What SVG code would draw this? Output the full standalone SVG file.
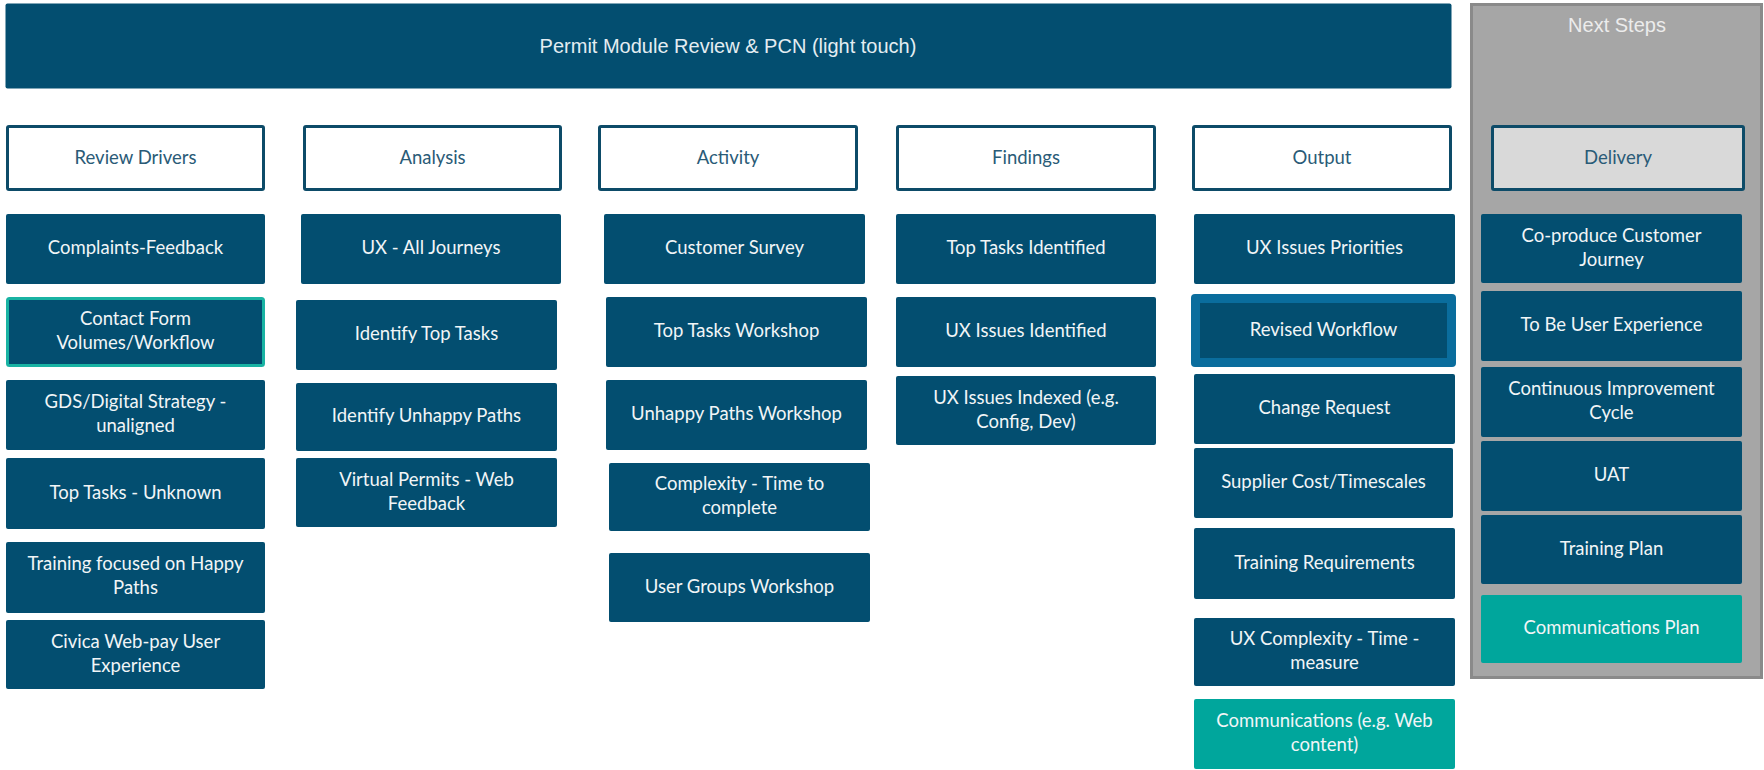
<svg xmlns="http://www.w3.org/2000/svg" width="1764" height="770" viewBox="0 0 1764 770">
  <style>
    .box { fill: #034e70; }
    .teal { fill: #00a69c; }
    .hdr { fill: #ffffff; stroke: #0d4b68; stroke-width: 3; }
    .hdr-grey { fill: #d9d9d9; stroke: #0d4b68; stroke-width: 3; }
    .t { font-family: Lato, "Open Sans", sans-serif; font-size: 18.5px; fill: #f1f5f7; text-anchor: middle; }
    .ht { font-family: Lato, "Open Sans", sans-serif; font-size: 18.5px; fill: #2a5b77; text-anchor: middle; }
    .big { font-family: "Liberation Sans", Arial, sans-serif; font-size: 20px; text-anchor: middle; }
  </style>

  <rect width="1764" height="770" fill="#ffffff"/>

  <!-- Banner -->
  <g id="banner">
    <rect x="5.5" y="3.5" width="1446" height="85" rx="2" class="box"/>
    <text x="728" y="53" class="big" fill="#e4edf2">Permit Module Review &amp; PCN (light touch)</text>
  </g>

  <!-- Next steps panel -->
  <g id="next-steps">
    <rect x="1471.5" y="4.5" width="290" height="673" fill="#a6a6a6" stroke="#8a8a8a" stroke-width="3"/>
    <text x="1617" y="32" class="big" fill="#ececec">Next Steps</text>
  </g>

  <!-- Column headers -->
  <g id="hdr-review-drivers">
    <rect x="7.5" y="126.5" width="256" height="63" rx="1.5" class="hdr"/>
    <text x="135.5" y="164" class="ht">Review Drivers</text>
  </g>
  <g id="hdr-analysis">
    <rect x="304.5" y="126.5" width="256" height="63" rx="1.5" class="hdr"/>
    <text x="432.5" y="164" class="ht">Analysis</text>
  </g>
  <g id="hdr-activity">
    <rect x="599.5" y="126.5" width="257" height="63" rx="1.5" class="hdr"/>
    <text x="728" y="164" class="ht">Activity</text>
  </g>
  <g id="hdr-findings">
    <rect x="897.5" y="126.5" width="257" height="63" rx="1.5" class="hdr"/>
    <text x="1026" y="164" class="ht">Findings</text>
  </g>
  <g id="hdr-output">
    <rect x="1193.5" y="126.5" width="257" height="63" rx="1.5" class="hdr"/>
    <text x="1322" y="164" class="ht">Output</text>
  </g>
  <g id="hdr-delivery">
    <rect x="1492.5" y="126.5" width="251" height="63" rx="1.5" class="hdr-grey"/>
    <text x="1618" y="164" class="ht">Delivery</text>
  </g>

  <!-- Review Drivers -->
  <g id="complaints-feedback">
    <rect x="6" y="214" width="259" height="70" rx="2" class="box"/>
    <text x="135.5" y="254" class="t">Complaints-Feedback</text>
  </g>
  <g id="contact-form">
    <rect x="7.5" y="298.5" width="256" height="67" rx="2" class="box" stroke="#19b3a3" stroke-width="3"/>
    <text x="135.5" y="325" class="t">Contact Form</text>
    <text x="135.5" y="349" class="t">Volumes/Workflow</text>
  </g>
  <g id="gds-strategy">
    <rect x="6" y="380" width="259" height="70" rx="2" class="box"/>
    <text x="135.5" y="408" class="t">GDS/Digital Strategy -</text>
    <text x="135.5" y="432" class="t">unaligned</text>
  </g>
  <g id="top-tasks-unknown">
    <rect x="6" y="458" width="259" height="71" rx="2" class="box"/>
    <text x="135.5" y="499" class="t">Top Tasks - Unknown</text>
  </g>
  <g id="training-happy-paths">
    <rect x="6" y="542" width="259" height="71" rx="2" class="box"/>
    <text x="135.5" y="570" class="t">Training focused on Happy</text>
    <text x="135.5" y="594" class="t">Paths</text>
  </g>
  <g id="civica-webpay">
    <rect x="6" y="620" width="259" height="69" rx="2" class="box"/>
    <text x="135.5" y="648" class="t">Civica Web-pay User</text>
    <text x="135.5" y="672" class="t">Experience</text>
  </g>

  <!-- Analysis -->
  <g id="ux-all-journeys">
    <rect x="301" y="214" width="260" height="70" rx="2" class="box"/>
    <text x="431" y="254" class="t">UX - All Journeys</text>
  </g>
  <g id="identify-top-tasks">
    <rect x="296" y="300" width="261" height="70" rx="2" class="box"/>
    <text x="426.5" y="340" class="t">Identify Top Tasks</text>
  </g>
  <g id="identify-unhappy-paths">
    <rect x="296" y="383" width="261" height="68" rx="2" class="box"/>
    <text x="426.5" y="422" class="t">Identify Unhappy Paths</text>
  </g>
  <g id="virtual-permits">
    <rect x="296" y="458" width="261" height="69" rx="2" class="box"/>
    <text x="426.5" y="486" class="t">Virtual Permits - Web</text>
    <text x="426.5" y="510" class="t">Feedback</text>
  </g>

  <!-- Activity -->
  <g id="customer-survey">
    <rect x="604" y="214" width="261" height="70" rx="2" class="box"/>
    <text x="734.5" y="254" class="t">Customer Survey</text>
  </g>
  <g id="top-tasks-workshop">
    <rect x="606" y="297" width="261" height="70" rx="2" class="box"/>
    <text x="736.5" y="337" class="t">Top Tasks Workshop</text>
  </g>
  <g id="unhappy-paths-workshop">
    <rect x="606" y="380" width="261" height="70" rx="2" class="box"/>
    <text x="736.5" y="420" class="t">Unhappy Paths Workshop</text>
  </g>
  <g id="complexity-time">
    <rect x="609" y="463" width="261" height="68" rx="2" class="box"/>
    <text x="739.5" y="490" class="t">Complexity - Time to</text>
    <text x="739.5" y="514" class="t">complete</text>
  </g>
  <g id="user-groups-workshop">
    <rect x="609" y="553" width="261" height="69" rx="2" class="box"/>
    <text x="739.5" y="593" class="t">User Groups Workshop</text>
  </g>

  <!-- Findings -->
  <g id="top-tasks-identified">
    <rect x="896" y="214" width="260" height="70" rx="2" class="box"/>
    <text x="1026" y="254" class="t">Top Tasks Identified</text>
  </g>
  <g id="ux-issues-identified">
    <rect x="896" y="297" width="260" height="70" rx="2" class="box"/>
    <text x="1026" y="337" class="t">UX Issues Identified</text>
  </g>
  <g id="ux-issues-indexed">
    <rect x="896" y="376" width="260" height="69" rx="2" class="box"/>
    <text x="1026" y="404" class="t">UX Issues Indexed (e.g.</text>
    <text x="1026" y="428" class="t">Config, Dev)</text>
  </g>

  <!-- Output -->
  <g id="ux-issues-priorities">
    <rect x="1194" y="214" width="261" height="70" rx="2" class="box"/>
    <text x="1324.5" y="254" class="t">UX Issues Priorities</text>
  </g>
  <g id="revised-workflow">
    <rect x="1191" y="294" width="265" height="73" rx="4" fill="#0a6d9d"/>
    <rect x="1200" y="303" width="247" height="55" class="box"/>
    <text x="1323.5" y="336" class="t">Revised Workflow</text>
  </g>
  <g id="change-request">
    <rect x="1194" y="374" width="261" height="70" rx="2" class="box"/>
    <text x="1324.5" y="414" class="t">Change Request</text>
  </g>
  <g id="supplier-cost">
    <rect x="1194" y="448" width="259" height="70" rx="2" class="box"/>
    <text x="1323.5" y="488" class="t">Supplier Cost/Timescales</text>
  </g>
  <g id="training-requirements">
    <rect x="1194" y="528" width="261" height="71" rx="2" class="box"/>
    <text x="1324.5" y="569" class="t">Training Requirements</text>
  </g>
  <g id="ux-complexity">
    <rect x="1194" y="618" width="261" height="68" rx="2" class="box"/>
    <text x="1324.5" y="645" class="t">UX Complexity - Time -</text>
    <text x="1324.5" y="669" class="t">measure</text>
  </g>
  <g id="communications">
    <rect x="1194" y="699" width="261" height="70" rx="2" class="teal"/>
    <text x="1324.5" y="727" class="t">Communications (e.g. Web</text>
    <text x="1324.5" y="751" class="t">content)</text>
  </g>

  <!-- Delivery -->
  <g id="co-produce-journey">
    <rect x="1481" y="214" width="261" height="69" rx="2" class="box"/>
    <text x="1611.5" y="242" class="t">Co-produce Customer</text>
    <text x="1611.5" y="266" class="t">Journey</text>
  </g>
  <g id="to-be-ux">
    <rect x="1481" y="291" width="261" height="70" rx="2" class="box"/>
    <text x="1611.5" y="331" class="t">To Be User Experience</text>
  </g>
  <g id="continuous-improvement">
    <rect x="1481" y="367" width="261" height="70" rx="2" class="box"/>
    <text x="1611.5" y="395" class="t">Continuous Improvement</text>
    <text x="1611.5" y="419" class="t">Cycle</text>
  </g>
  <g id="uat">
    <rect x="1481" y="441" width="261" height="70" rx="2" class="box"/>
    <text x="1611.5" y="481" class="t">UAT</text>
  </g>
  <g id="training-plan">
    <rect x="1481" y="515" width="261" height="69" rx="2" class="box"/>
    <text x="1611.5" y="555" class="t">Training Plan</text>
  </g>
  <g id="communications-plan">
    <rect x="1481" y="595" width="261" height="68" rx="2" class="teal"/>
    <text x="1611.5" y="634" class="t">Communications Plan</text>
  </g>

  <g id="connectors"/>
</svg>
